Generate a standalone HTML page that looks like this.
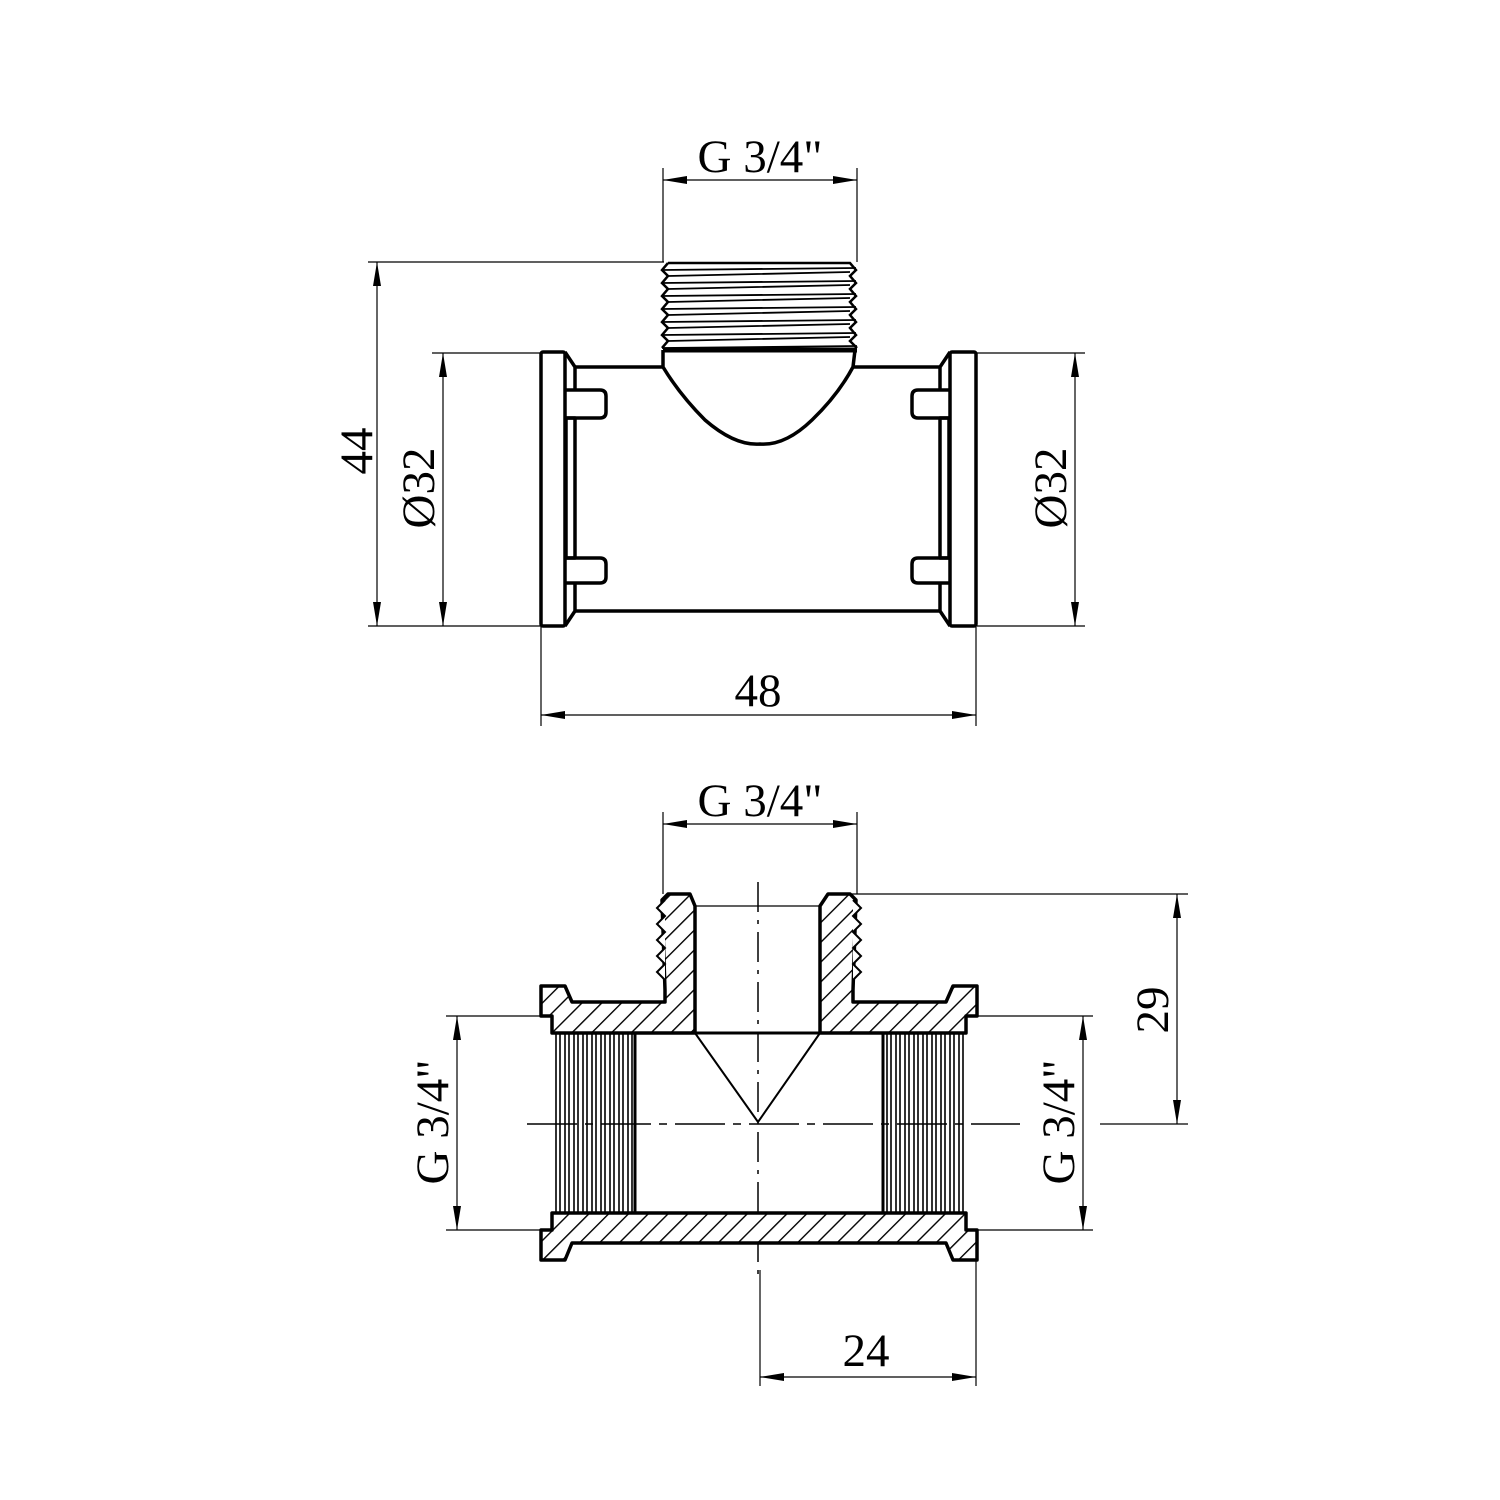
<!DOCTYPE html>
<html><head><meta charset="utf-8"><style>html,body{margin:0;padding:0;background:#fff}svg{display:block}</style></head><body>
<svg width="1500" height="1500" viewBox="0 0 1500 1500" xmlns="http://www.w3.org/2000/svg" font-family="Liberation Serif, serif" font-size="47">
<defs>
<pattern id="h" patternUnits="userSpaceOnUse" width="14" height="14" patternTransform="rotate(45)">
<rect width="14" height="14" fill="#fff"/><line x1="0" y1="0" x2="0" y2="14" stroke="#000" stroke-width="2.8"/></pattern>
<marker id="a" viewBox="0 0 24 8" refX="24" refY="4" markerWidth="24" markerHeight="8" markerUnits="userSpaceOnUse" orient="auto-start-reverse"><path d="M0,0 L24,4 L0,8 z" fill="#000"/></marker>
</defs>
<g stroke="#000" fill="none">
<!-- ===== TOP VIEW ===== -->
<g stroke-width="1.2">
<line x1="663" y1="168" x2="663" y2="262"/><line x1="857" y1="168" x2="857" y2="262"/>
<line x1="663" y1="180" x2="857" y2="180" marker-start="url(#a)" marker-end="url(#a)"/>
<line x1="368" y1="262" x2="664" y2="262"/><line x1="368" y1="626" x2="541" y2="626"/>
<line x1="377" y1="262" x2="377" y2="626" marker-start="url(#a)" marker-end="url(#a)"/>
<line x1="432" y1="353" x2="541" y2="353"/>
<line x1="443" y1="353" x2="443" y2="626" marker-start="url(#a)" marker-end="url(#a)"/>
<line x1="977" y1="353" x2="1085" y2="353"/><line x1="977" y1="626" x2="1085" y2="626"/>
<line x1="1075" y1="353" x2="1075" y2="626" marker-start="url(#a)" marker-end="url(#a)"/>
<line x1="541" y1="626" x2="541" y2="726"/><line x1="976" y1="626" x2="976" y2="726"/>
<line x1="541" y1="715" x2="976" y2="715" marker-start="url(#a)" marker-end="url(#a)"/>
</g>
<g stroke-width="3.5" stroke-linejoin="round">
<rect x="541" y="352" width="24" height="274" rx="2"/>
<path d="M565,352 L575,367 L575,390 M565,418 L575,418 L575,558 L565,558 M575,583 L575,611 L565,626"/>
<path d="M565,390 L600,390 Q606,390 606,396 L606,412 Q606,418 600,418 L565,418"/>
<path d="M565,558 L600,558 Q606,558 606,564 L606,577 Q606,583 600,583 L565,583"/>
<line x1="567" y1="418" x2="567" y2="558" stroke-width="1.5"/>
<rect x="950" y="352" width="26" height="274" rx="2"/>
<path d="M950,352 L940,367 L940,390 M950,418 L940,418 L940,558 L950,558 M940,583 L940,611 L950,626"/>
<path d="M950,390 L918,390 Q912,390 912,396 L912,412 Q912,418 918,418 L950,418"/>
<path d="M950,558 L918,558 Q912,558 912,564 L912,577 Q912,583 918,583 L950,583"/>
<line x1="948" y1="418" x2="948" y2="558" stroke-width="1.5"/>
<path d="M575,367 L663,367 M853,367 L940,367 M575,611 L940,611"/>
<path d="M663,350 L663,367 Q680,395 705,420 Q735,446 760,444 Q785,446 812,420 Q838,395 853,367 L855,350"/>
<line x1="663" y1="350" x2="857" y2="350" stroke-width="5"/>
</g>
<g stroke-width="2.5">
<path d="M668,263 L850,263 L856,270 L850,276 L856,283 L850,289 L856,296 L850,302 L856,309 L850,315 L856,322 L850,328 L856,335 L850,341 L857,348"/>
<path d="M668,263 L662,270 L668,276 L662,283 L668,289 L662,296 L668,302 L662,309 L668,315 L662,322 L668,328 L662,335 L668,341 L662,348"/>
<path d="M662,270 L856,268 M668,276 L850,272 M662,283 L856,281 M668,289 L850,285 M662,296 L856,294 M668,302 L850,298 M662,309 L856,307 M668,315 L850,311 M662,322 L856,320 M668,328 L850,324 M662,335 L856,333 M668,341 L850,337 M662,348 L857,346" stroke-width="1.8"/>
</g>

<!-- ===== BOTTOM VIEW ===== -->
<g stroke-width="1.2">
<line x1="663" y1="812" x2="663" y2="894"/><line x1="857" y1="812" x2="857" y2="894"/>
<line x1="663" y1="824" x2="857" y2="824" marker-start="url(#a)" marker-end="url(#a)"/>
<line x1="840" y1="894" x2="1188" y2="894"/><line x1="1100" y1="1124" x2="1188" y2="1124"/>
<line x1="1177" y1="894" x2="1177" y2="1124" marker-start="url(#a)" marker-end="url(#a)"/>
<line x1="446" y1="1016" x2="541" y2="1016"/><line x1="446" y1="1230" x2="541" y2="1230"/>
<line x1="457" y1="1016" x2="457" y2="1230" marker-start="url(#a)" marker-end="url(#a)"/>
<line x1="977" y1="1016" x2="1093" y2="1016"/><line x1="977" y1="1230" x2="1093" y2="1230"/>
<line x1="1083" y1="1016" x2="1083" y2="1230" marker-start="url(#a)" marker-end="url(#a)"/>
<line x1="760" y1="1270" x2="760" y2="1386"/><line x1="976" y1="1260" x2="976" y2="1386"/>
<line x1="760" y1="1377" x2="976" y2="1377" marker-start="url(#a)" marker-end="url(#a)"/>
<line x1="758" y1="882" x2="758" y2="1282" stroke-dasharray="30,8,4,8" stroke-width="1.5"/>
<line x1="527" y1="1124" x2="1020" y2="1124" stroke-dasharray="50,8,8,8" stroke-width="1.5"/>
<line x1="695" y1="906" x2="820" y2="906"/>
</g>
<g stroke-width="3.5" stroke-linejoin="round" fill="url(#h)">
<path d="M541,986 L565,986 L572,1002 L665,1002 L665,990 L662,900 L668,894 L690,894 L695,906 L695,1033 L552,1033 L552,1016 L541,1016 Z"/>
<path d="M977,986 L953,986 L946,1002 L853,1002 L853,990 L856,900 L850,894 L828,894 L820,906 L820,1033 L966,1033 L966,1016 L977,1016 Z"/>
<path d="M541,1230 L552,1230 L552,1213 L966,1213 L966,1230 L977,1230 L977,1260 L953,1260 L946,1243 L572,1243 L565,1260 L541,1260 Z"/>
</g>
<g stroke-width="2">
<path d="M695,1033 L758,1122 L820,1033"/>
<path d="M665,900 L657,908 L665,916 L657,924 L665,932 L657,940 L665,948 L657,956 L665,964 L657,972 L665,980" fill="#fff"/>
<path d="M853,900 L861,908 L853,916 L861,924 L853,932 L861,940 L853,948 L861,956 L853,964 L861,972 L853,980" fill="#fff"/>
</g>
<g stroke-width="1.6">
<path d="M556,1033V1213M560,1033V1213M565,1033V1213M569,1033V1213M574,1033V1213M578,1033V1213M583,1033V1213M587,1033V1213M592,1033V1213M596,1033V1213M601,1033V1213M605,1033V1213M610,1033V1213M614,1033V1213M619,1033V1213M623,1033V1213M628,1033V1213M632,1033V1213"/>
<path d="M887,1033V1213M891,1033V1213M896,1033V1213M900,1033V1213M905,1033V1213M909,1033V1213M914,1033V1213M918,1033V1213M923,1033V1213M927,1033V1213M932,1033V1213M936,1033V1213M941,1033V1213M945,1033V1213M950,1033V1213M954,1033V1213M959,1033V1213M963,1033V1213"/>
<line x1="635" y1="1033" x2="635" y2="1213" stroke-width="3"/>
<line x1="883" y1="1033" x2="883" y2="1213" stroke-width="3"/>
<line x1="635" y1="1033" x2="883" y2="1033" stroke-width="3"/>
</g>
</g>
<g fill="#000" text-anchor="middle">
<text x="760" y="172">G 3/4"</text>
<text x="760" y="816">G 3/4"</text>
<text x="758" y="706">48</text>
<text x="866" y="1366">24</text>
<text transform="translate(372,451) rotate(-90)">44</text>
<text transform="translate(434,488) rotate(-90)">Ø32</text>
<text transform="translate(1066,488) rotate(-90)">Ø32</text>
<text transform="translate(1168,1010) rotate(-90)">29</text>
<text transform="translate(448,1122) rotate(-90)">G 3/4"</text>
<text transform="translate(1074,1122) rotate(-90)">G 3/4"</text>
</g>
</svg>
</body></html>
